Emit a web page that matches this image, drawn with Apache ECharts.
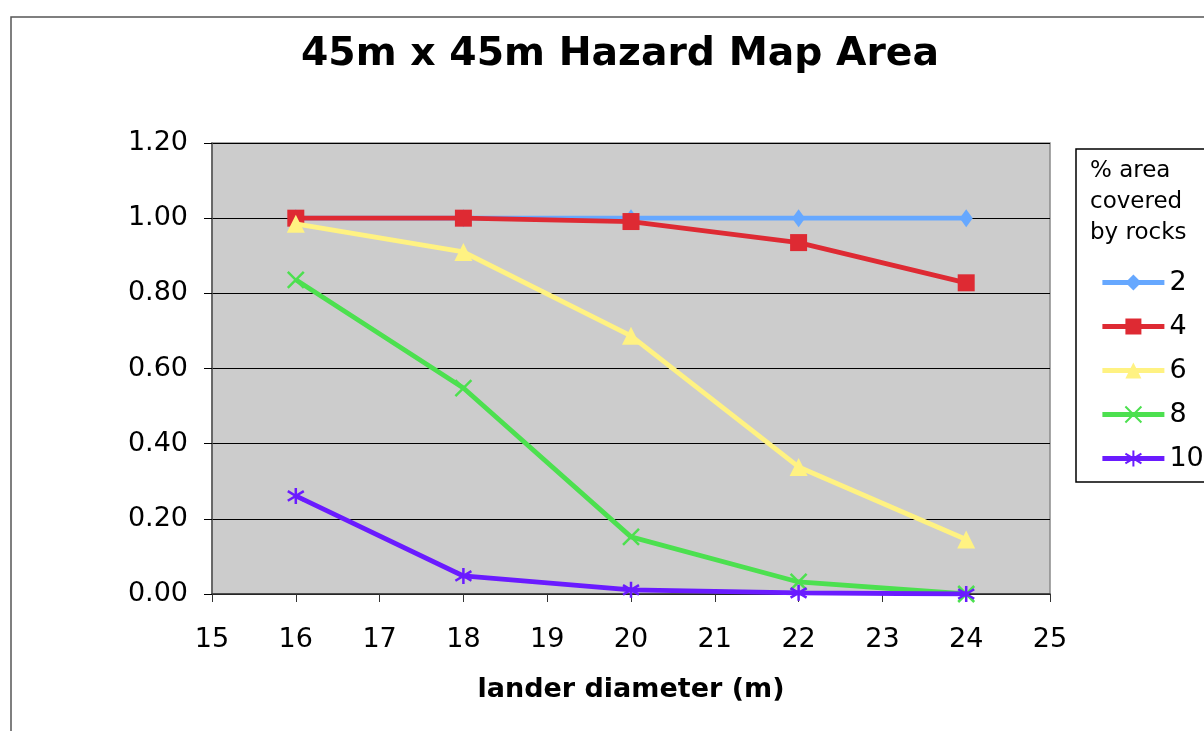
<!DOCTYPE html>
<html>
<head>
<meta charset="utf-8">
<script src="https://cdn.jsdelivr.net/npm/echarts@6/dist/echarts.min.js"></script>
<style>html,body{margin:0;padding:0;background:#fff;}#chart{width:1204px;height:731px;}</style>
</head>
<body>
<div id="chart"></div>
<script>
var titleText = '45m x 45m Hazard Map Area';
var xAxisName = 'lander diameter (m)';
var legendTitle = ['% area', 'covered', 'by rocks'];
var diameters = [16, 18, 20, 22, 24];
var seriesNames = ['2', '4', '6', '8', '10'];
var rock2 = [1.00, 1.00, 1.00, 1.00, 1.00];
var rock4 = [1.00, 1.00, 0.991, 0.935, 0.828];
var rock6 = [0.985, 0.91, 0.687, 0.338, 0.145];
var rock8 = [0.836, 0.548, 0.152, 0.032, 0.0];
var rock10 = [0.261, 0.048, 0.011, 0.003, 0.0];

var FONT = 'DejaVu Sans, Verdana, sans-serif';
var colors = ['#66A8FF', '#DE2A33', '#FFF282', '#4CE04F', '#6A1BFF'];
var symbols = [
  'diamond',
  'rect',
  'triangle',
  'path://M0,0L10,10M10,0L0,10',
  'path://M5,0L5,10M0,2L10,8M0,8L10,2'
];
var symbolSizes = [[13,18], 17, 18, 16, 16];
var dataSets = [rock2, rock4, rock6, rock8, rock10];

function pairs(vals) {
  return diameters.map(function (d, i) { return [d, vals[i]]; });
}

var series = seriesNames.map(function (name, i) {
  var isStroke = i >= 3;
  return {
    name: name,
    type: 'line',
    data: pairs(dataSets[i]),
    symbol: symbols[i],
    symbolSize: symbolSizes[i],
    showAllSymbol: true,
    lineStyle: { color: colors[i], width: 4.8 },
    itemStyle: isStroke
      ? { color: 'rgba(0,0,0,0)', borderColor: colors[i], borderWidth: 2.5 }
      : { color: colors[i], borderWidth: 0 },
    emphasis: { disabled: true },
    animation: false,
    z: 2 + i
  };
});

var chart = echarts.init(document.getElementById('chart'));
chart.setOption({
  animation: false,
  backgroundColor: '#ffffff',
  title: {
    text: titleText,
    left: 296,
    top: 30,
    textStyle: { fontFamily: FONT, fontSize: 39.3, fontWeight: 'bold', color: '#000' }
  },
  grid: {
    left: 212, top: 143, width: 838, height: 451,
    show: true, backgroundColor: '#CCCCCC', borderColor: '#8a8a8a', borderWidth: 1.5
  },
  xAxis: {
    type: 'value',
    min: 15, max: 25, interval: 1,
    name: xAxisName,
    nameLocation: 'middle',
    nameGap: 82,
    nameTextStyle: { fontFamily: FONT, fontSize: 27, fontWeight: 'bold', color: '#000' },
    axisLine: { show: true, onZero: false, lineStyle: { color: '#333', width: 1.5 } },
    axisTick: { show: true, inside: false, length: 8, lineStyle: { color: '#333' } },
    axisLabel: { fontFamily: FONT, fontSize: 27, color: '#000', margin: 32 },
    splitLine: { show: false }
  },
  yAxis: {
    type: 'value',
    min: 0, max: 1.2, interval: 0.2,
    axisLine: { show: true, lineStyle: { color: '#555', width: 1.5 } },
    axisTick: { show: true, inside: false, length: 8, lineStyle: { color: '#000' } },
    axisLabel: {
      fontFamily: FONT, fontSize: 27, color: '#000', margin: 24,
      formatter: function (v) { return v.toFixed(2); }
    },
    splitLine: { show: true, lineStyle: { color: '#000', width: 1.2 } }
  },
  legend: {
    data: seriesNames,
    orient: 'vertical',
    left: 1100,
    top: 269,
    padding: 0,
    itemWidth: 62,
    itemHeight: 20,
    itemGap: 17,
    selectedMode: false,
    lineStyle: { width: 4.8 },
    textStyle: { fontFamily: FONT, fontSize: 27, color: '#000', padding: 0 }
  },
  graphic: [
    {
      type: 'rect', silent: true, z: 0,
      shape: { x: 11, y: 17, width: 1250, height: 800 },
      style: { fill: 'none', stroke: '#555', lineWidth: 1.5 }
    },
    {
      type: 'rect', silent: true, z: 1,
      shape: { x: 1076, y: 149, width: 160, height: 333 },
      style: { fill: '#fff', stroke: '#000', lineWidth: 1.5 }
    },
    {
      type: 'text', silent: true, z: 2,
      left: 1090, top: 156,
      style: {
        text: legendTitle.join('\n'),
        font: '23px ' + FONT,
        lineHeight: 31,
        fill: '#000'
      }
    }
  ],
  series: series
});
</script>
</body>
</html>
